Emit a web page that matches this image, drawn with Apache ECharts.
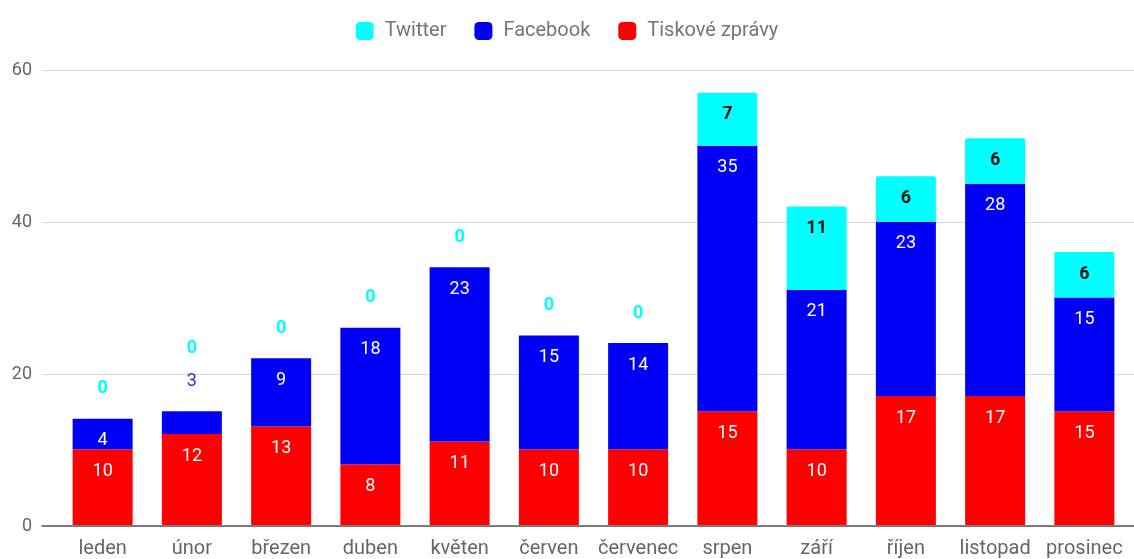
<!DOCTYPE html>
<html>
<head>
<meta charset="utf-8">
<script src="https://cdn.jsdelivr.net/npm/echarts@6/dist/echarts.min.js"></script>
<style>
html,body{margin:0;padding:0;background:#fff;}
#c{width:1134px;height:559px;}
</style>
</head>
<body>
<div id="c"></div>
<script>
const months = ['leden','únor','březen','duben','květen','červen','červenec','srpen','září','říjen','listopad','prosinec'];
const tiskove = [10,12,13,8,11,10,10,15,10,17,17,15];
const facebook = [4,3,9,18,23,15,14,35,21,23,28,15];
const twitter = [0,0,0,0,0,0,0,7,11,6,6,6];
const yTicks = [0,20,40,60];

const RED = '#ff0000', BLUE = '#0000f5', CYAN = '#00ffff';
const FONT = 'Roboto, "Noto Sans", sans-serif';
const FS = 18;
const SMALL = 4; // segments below this value get their label outside

const insideLabel = {show:true, position:'insideTop', distance:13, color:'#fff', fontSize:FS, fontFamily:FONT};

const fbData = facebook.map(v => v < SMALL
  ? {value:v, label:{show:true, position:'top', distance:21, color:'#3030d0', fontSize:FS, fontFamily:FONT}}
  : v);
const twData = twitter.map((v,i) => v === 0
  ? {value:v, label:{show:true, position:'top', distance: facebook[i] < SMALL ? 54 : 21, color:CYAN, fontWeight:'bold', fontSize:FS, fontFamily:FONT}}
  : v);

const chart = echarts.init(document.getElementById('c'));
chart.setOption({
  animation:false,
  backgroundColor:'#fff',
  textStyle:{fontFamily:FONT},
  legend:{
    data:['Twitter','Facebook','Tiskové zprávy'],
    top:16, left:'center',
    icon:'roundRect', itemWidth:18, itemHeight:18, itemGap:28,
    textStyle:{color:'#757575', fontSize:20, fontFamily:FONT, padding:[0,0,0,6]}
  },
  grid:[
    {left:42, right:0, top:70, bottom:33},
    {left:58, right:5, top:70, bottom:33}
  ],
  xAxis:[
    {type:'category', gridIndex:0, data:[''], axisLine:{show:true, lineStyle:{color:'#555', width:1.5}},
      axisTick:{show:false}, axisLabel:{show:false}},
    {type:'category', gridIndex:1, data:months, axisLine:{show:false}, axisTick:{show:false},
      axisLabel:{interval:0, color:'#666', fontSize:20, fontFamily:FONT, margin:14}}
  ],
  yAxis:[
    {type:'value', gridIndex:0, min:yTicks[0], max:yTicks[yTicks.length-1], interval:20,
      axisLine:{show:false}, axisTick:{show:false},
      axisLabel:{color:'#666', fontSize:FS, fontFamily:FONT, margin:10},
      splitLine:{lineStyle:{color:'#d9d9d9', width:1}}},
    {type:'value', gridIndex:1, min:yTicks[0], max:yTicks[yTicks.length-1], interval:20,
      axisLine:{show:false}, axisTick:{show:false}, axisLabel:{show:false}, splitLine:{show:false}}
  ],
  series:[
    {name:'Tiskové zprávy', type:'bar', stack:'s', xAxisIndex:1, yAxisIndex:1, barWidth:60,
      itemStyle:{color:RED}, label:insideLabel, data:tiskove},
    {name:'Facebook', type:'bar', stack:'s', xAxisIndex:1, yAxisIndex:1, barWidth:60,
      itemStyle:{color:BLUE}, label:insideLabel, data:fbData},
    {name:'Twitter', type:'bar', stack:'s', xAxisIndex:1, yAxisIndex:1, barWidth:60,
      itemStyle:{color:CYAN, borderRadius:[2,2,0,0]},
      label:{show:true, position:'insideTop', distance:13, color:'#111', fontWeight:'bold', fontSize:FS, fontFamily:FONT},
      data:twData}
  ]
});
</script>
</body>
</html>
